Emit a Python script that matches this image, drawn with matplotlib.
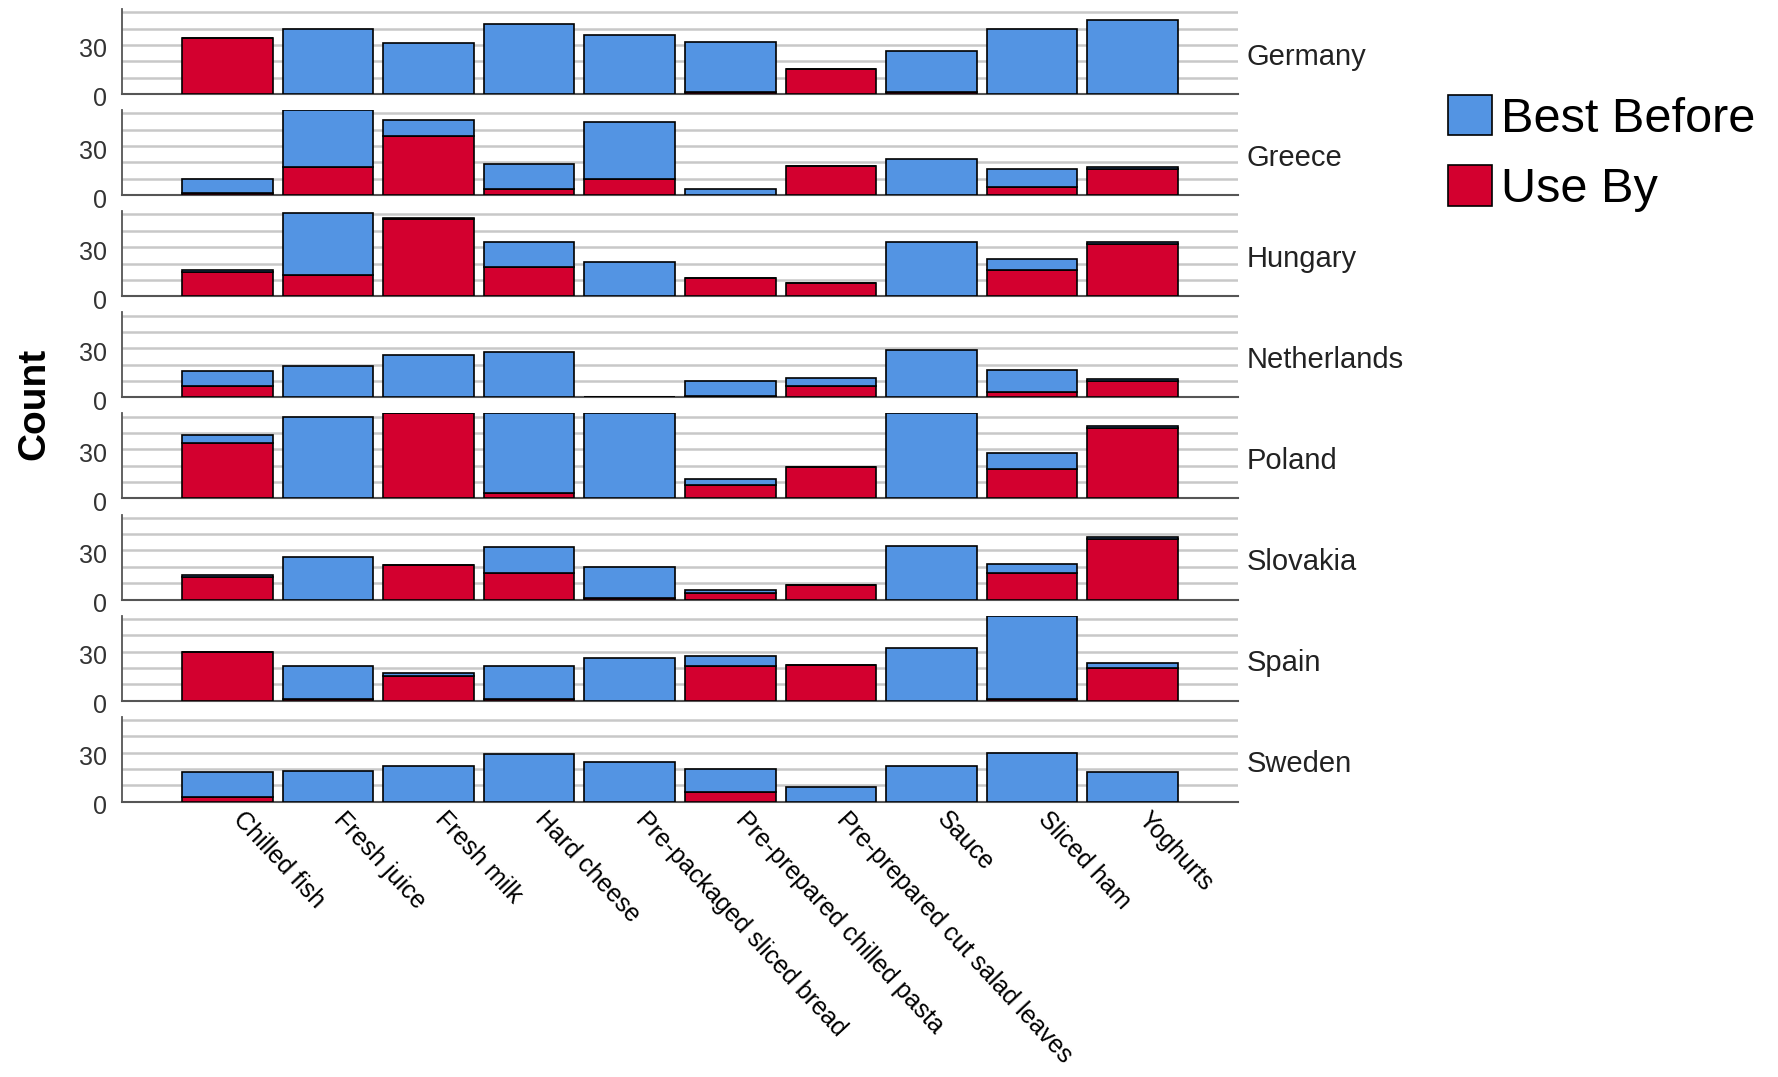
import numpy as np
import matplotlib
matplotlib.use("Agg")
import matplotlib.pyplot as plt
from matplotlib.patches import Patch
from matplotlib.transforms import ScaledTranslation

# kategoriler ve ulkeler
categories = ["Chilled fish", "Fresh juice", "Fresh milk", "Hard cheese",
              "Pre-packaged sliced bread", "Pre-prepared chilled pasta",
              "Pre-prepared cut salad leaves", "Sauce", "Sliced ham", "Yoghurts"]
countries = ["Germany", "Greece", "Hungary", "Netherlands", "Poland", "Slovakia", "Spain", "Sweden"]

# Use By (alt, kirmizi) ve Best Before (ust, mavi) sayilari
ub_germany = [34, 0, 0, 0, 0, 1, 15, 1, 0, 0]
bb_germany = [0, 40, 31, 43, 36, 31, 0, 25, 40, 45]
ub_greece = [1, 17, 36, 4, 10, 0, 18, 0, 5, 16]
bb_greece = [9, 35, 10, 15, 35, 4, 0, 22, 11, 1]
ub_hungary = [15, 13, 47, 18, 0, 11, 8, 0, 16, 32]
bb_hungary = [1, 38, 1, 15, 21, 0, 0, 33, 7, 1]
ub_netherlands = [7, 0, 0, 0, 0, 1, 7, 0, 3, 10]
bb_netherlands = [9, 19, 26, 28, 0, 9, 5, 29, 14, 1]
ub_poland = [34, 0, 52, 3, 0, 8, 19, 0, 18, 43]
bb_poland = [5, 50, 0, 49, 52, 4, 0, 52, 10, 1]
ub_slovakia = [14, 0, 21, 16, 1, 4, 9, 0, 16, 37]
bb_slovakia = [1, 26, 0, 16, 19, 2, 0, 33, 6, 1]
ub_spain = [30, 1, 15, 1, 0, 21, 22, 0, 1, 20]
bb_spain = [0, 20, 2, 20, 26, 6, 0, 32, 51, 3]
ub_sweden = [3, 0, 0, 0, 0, 6, 0, 0, 0, 0]
bb_sweden = [15, 19, 22, 29, 24, 14, 9, 22, 30, 18]

y_ticks = [0, 30]
grid_lines = [10, 20, 40, 50]
legend_labels = ["Best Before", "Use By"]

use_by = [ub_germany, ub_greece, ub_hungary, ub_netherlands, ub_poland, ub_slovakia, ub_spain, ub_sweden]
best_before = [bb_germany, bb_greece, bb_hungary, bb_netherlands, bb_poland, bb_slovakia, bb_spain, bb_sweden]

BLUE = "#5394E3"
RED = "#D3002F"
plt.rcParams['font.family'] = ["Liberation Sans", "DejaVu Sans"]

W, H = 1778, 1077
fig = plt.figure(figsize=(W / 100, H / 100), dpi=100)

# panel yerlesimi piksel cinsinden
left_px, right_px = 122, 1238
first_base, step, panel_h = 94, 101.1, 85

x = np.arange(len(categories))
for i, country in enumerate(countries):
    base = first_base + step * i
    ax = fig.add_axes([left_px / W, 1 - base / H, (right_px - left_px) / W, panel_h / H])

    ub = np.array(use_by[i])
    bb = np.array(best_before[i])
    ax.bar(x, ub, width=0.9, color=RED, edgecolor="black", linewidth=1.2, zorder=3)
    ax.bar(x, bb, width=0.9, bottom=ub, color=BLUE, edgecolor="black", linewidth=1.2, zorder=3)

    ax.set_xlim(-1.05, len(categories) - 1 + 1.05)
    ax.set_ylim(0, 52)
    ax.set_yticks(y_ticks)
    ax.set_yticks(grid_lines, minor=True)
    ax.grid(axis="y", which="both", color="#c8c8c8", linewidth=1.8, zorder=0)
    ax.tick_params(axis="y", which="both", length=0, pad=11, labelsize=18, labelcolor="#333333")
    # sayilar biraz asagida duruyor
    for lab in ax.get_yticklabels():
        lab.set_transform(lab.get_transform() + ScaledTranslation(0, -3 / 100, fig.dpi_scale_trans))
    ax.set_xticks(x)
    ax.tick_params(axis="x", length=0)

    for s in ["top", "right"]:
        ax.spines[s].set_visible(False)
    ax.spines["left"].set_color("#555555")
    ax.spines["bottom"].set_color("#555555")
    ax.spines["left"].set_linewidth(1.3)
    ax.spines["bottom"].set_linewidth(1.5)

    ax.text(1.008, 0.44, country, transform=ax.transAxes, ha="left", va="center",
            fontsize=21, color="#222222")

    if i < len(countries) - 1:
        ax.set_xticklabels([])
    else:
        ax.set_xticklabels(categories, rotation=-47, rotation_mode="anchor",
                           ha="left", va="center", fontsize=18)
        ax.tick_params(axis="x", pad=10)
        for lab in ax.get_xticklabels():
            lab.set_transform(lab.get_transform() + ScaledTranslation(10 / 100, 0, fig.dpi_scale_trans))

fig.text(34 / W, 1 - 404 / H, "Count", rotation=90, ha="center", va="center",
         fontsize=28, fontweight="bold")

handles = [Patch(facecolor=BLUE, edgecolor="black", linewidth=1.2),
           Patch(facecolor=RED, edgecolor="black", linewidth=1.2)]
fig.legend(handles, legend_labels, loc="upper left", bbox_to_anchor=(1448 / W, 1 - 95 / H),
           frameon=False, fontsize=35, handlelength=0.9, handleheight=0.9,
           handletextpad=0.2, labelspacing=0.48, borderpad=0, borderaxespad=0)

fig.savefig("out.png", dpi=100, facecolor="white")
